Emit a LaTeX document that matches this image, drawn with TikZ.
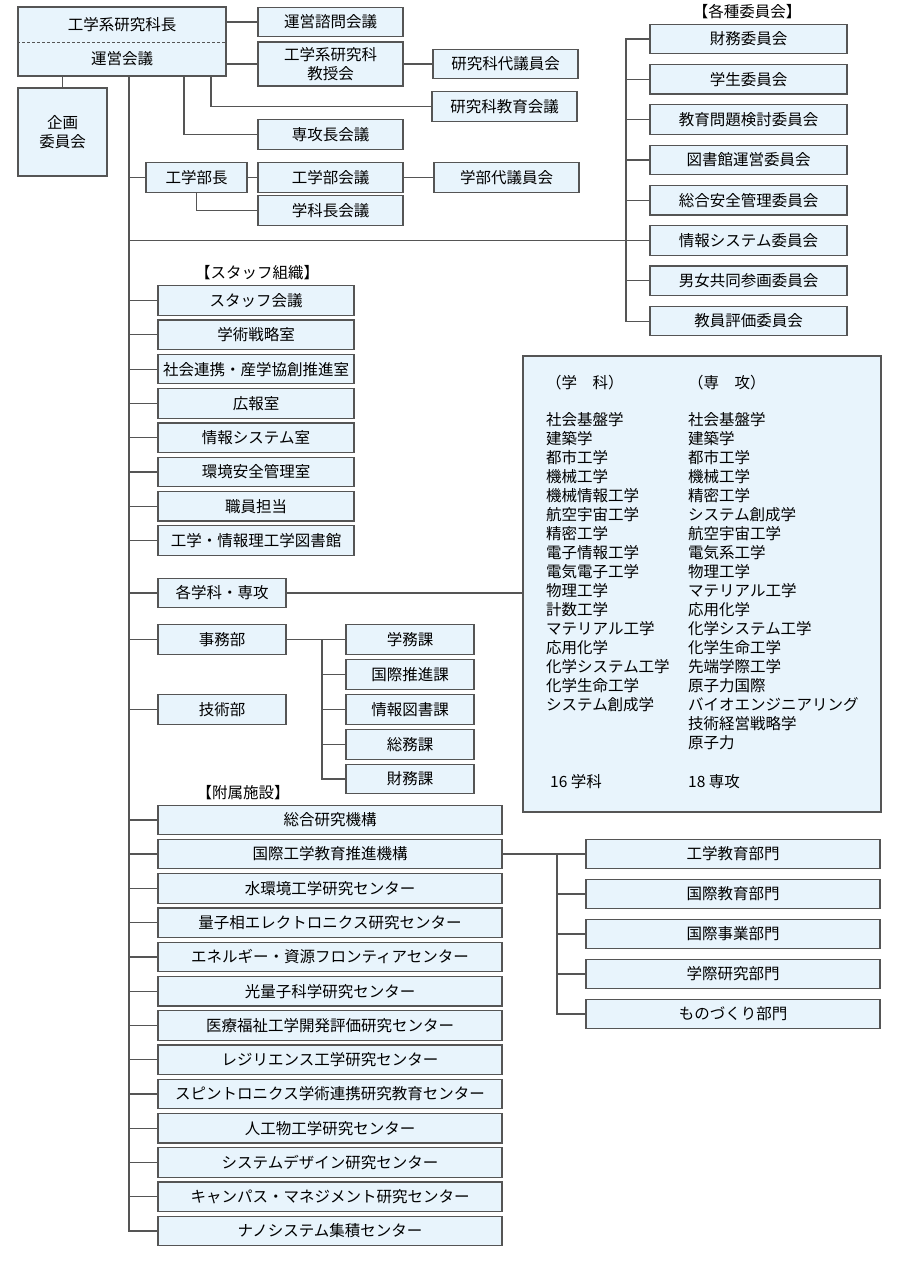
\documentclass[tikz,border=0pt]{standalone}
\usepackage{fontspec}
\setmainfont{Noto Sans CJK JP}
\definecolor{linegray}{RGB}{85,85,85}
\definecolor{boxfill}{RGB}{232,244,252}
\tikzset{
  orgbox/.style={draw=linegray, fill=boxfill, line width=1.2pt, minimum height=29.5pt, inner sep=0pt, font=\fontsize{15.5pt}{18.5pt}\selectfont},
  topbox/.style={orgbox, minimum width=145pt},
  iinbox/.style={orgbox, minimum width=197pt},
  staffbox/.style={orgbox, minimum width=196pt},
  smallbox/.style={orgbox, minimum width=128pt},
  facbox/.style={orgbox, minimum width=344pt},
  bumonbox/.style={orgbox, minimum width=294pt},
  grouptitle/.style={inner sep=0pt, font=\fontsize{15.5pt}{18.5pt}\selectfont},
  listtext/.style={inner sep=0pt, font=\fontsize{15.5pt}{19pt}\selectfont},
  link/.style={draw=linegray, line width=1.2pt}
}
\begin{document}
\begin{tikzpicture}[x=1pt, y=-1pt]
    \fill[white] (0,0) rectangle (900,1266);
    \useasboundingbox (0,0) rectangle (900,1266);

    \node[orgbox, minimum width=208pt, minimum height=69pt] (kenkyukacho) at (122,41.5) {};
    \node[grouptitle] (kenkyukachoText) at (122,25) {工学系研究科長};
    \node[grouptitle] (uneikaigiText) at (122,59) {運営会議};
    \draw[linegray, line width=1pt, dash pattern=on 3pt off 2pt] (kenkyukacho.west |- 0,42) -- (kenkyukacho.east |- 0,42);
    \node[orgbox, minimum width=89pt, minimum height=88pt, align=center] (kikaku) at (62.5,132) {企画\\委員会};

    \node[topbox] (uneishimon) at (330.5,22) {運営諮問会議};
    \node[topbox, minimum height=44pt, align=center] (kyojukai) at (330.5,64) {工学系研究科\\教授会};
    \node[topbox] (kdaigiin) at (505.5,64) {研究科代議員会};
    \node[topbox] (kyoikukaigi) at (504.5,106.5) {研究科教育会議};
    \node[topbox] (senkocho) at (330.5,134.5) {専攻長会議};
    \node[orgbox, minimum width=101pt] (kogakubucho) at (196.5,177.5) {工学部長};
    \node[topbox] (kogakubukaigi) at (330.5,177.5) {工学部会議};
    \node[topbox] (gdaigiin) at (506.5,177.5) {学部代議員会};
    \node[topbox] (gakkacho) at (330.5,210.5) {学科長会議};

    \coordinate (trunkTop) at (129,76);
    \coordinate (senkoBr) at (184,76);
    \coordinate (kyoikuBr) at (211,76);
    \draw[link] (kikaku.north) -- (kikaku.north |- kenkyukacho.south);
    \draw[link] (kenkyukacho.east |- uneishimon.west) -- (uneishimon.west);
    \draw[link] (kenkyukacho.east |- kyojukai.west) -- (kyojukai.west);
    \draw[link] (kyojukai.east) -- (kdaigiin.west);
    \draw[link] (kyoikuBr) |- (kyoikukaigi.west);
    \draw[link] (senkoBr) |- (senkocho.west);
    \draw[link] (trunkTop |- kogakubucho.west) -- (kogakubucho.west);
    \draw[link] (kogakubucho.east) -- (kogakubukaigi.west);
    \draw[link] (kogakubukaigi.east) -- (gdaigiin.west);
    \draw[link] (kogakubucho.south) |- (gakkacho.west);

    \node[grouptitle] (iinTitle) at (747,12) {【各種委員会】};
    \node[iinbox] (zaimuiin) at (748.5,39) {財務委員会};
    \node[iinbox] (gakuseiiin) at (748.5,79.3) {学生委員会};
    \node[iinbox] (kyoikumondai) at (748.5,119.6) {教育問題検討委員会};
    \node[iinbox] (toshokan) at (748.5,159.9) {図書館運営委員会};
    \node[iinbox] (anzenkanri) at (748.5,200.2) {総合安全管理委員会};
    \node[iinbox] (johoiin) at (748.5,240.5) {情報システム委員会};
    \node[iinbox] (danjo) at (748.5,280.8) {男女共同参画委員会};
    \node[iinbox] (kyoinhyoka) at (748.5,321.1) {教員評価委員会};
    \coordinate (iinBus) at (626,240.5);
    \draw[link] (trunkTop |- johoiin.west) -- (johoiin.west);
    \draw[link] (zaimuiin.west) -| (iinBus |- kyoinhyoka.west) -- (kyoinhyoka.west);
    \draw[link] (gakuseiiin.west) -- (gakuseiiin.west -| iinBus);
    \draw[link] (kyoikumondai.west) -- (kyoikumondai.west -| iinBus);
    \draw[link] (toshokan.west) -- (toshokan.west -| iinBus);
    \draw[link] (anzenkanri.west) -- (anzenkanri.west -| iinBus);
    \draw[link] (danjo.west) -- (danjo.west -| iinBus);

    \node[grouptitle] (staffTitle) at (257,273) {【スタッフ組織】};
    \node[staffbox] (staffkaigi) at (256,300.5) {スタッフ会議};
    \node[staffbox] (senryaku) at (256,334.8) {学術戦略室};
    \node[staffbox] (shakairenkei) at (256,369.1) {社会連携・産学協創推進室};
    \node[staffbox] (koho) at (256,403.4) {広報室};
    \node[staffbox] (johoshitsu) at (256,437.7) {情報システム室};
    \node[staffbox] (kankyo) at (256,472) {環境安全管理室};
    \node[staffbox] (shokuin) at (256,506.3) {職員担当};
    \node[staffbox] (toshokanstaff) at (256,540.6) {工学・情報理工学図書館};
    \draw[link] (trunkTop |- staffkaigi.west) -- (staffkaigi.west);
    \draw[link] (trunkTop |- senryaku.west) -- (senryaku.west);
    \draw[link] (trunkTop |- shakairenkei.west) -- (shakairenkei.west);
    \draw[link] (trunkTop |- koho.west) -- (koho.west);
    \draw[link] (trunkTop |- johoshitsu.west) -- (johoshitsu.west);
    \draw[link] (trunkTop |- kankyo.west) -- (kankyo.west);
    \draw[link] (trunkTop |- shokuin.west) -- (shokuin.west);
    \draw[link] (trunkTop |- toshokanstaff.west) -- (toshokanstaff.west);

    \node[smallbox] (kakugakka) at (222,593) {各学科・専攻};
    \node[orgbox, minimum width=358pt, minimum height=456pt] (gakkabox) at (702,584) {};
    \draw[link] (trunkTop |- kakugakka.west) -- (kakugakka.west);
    \draw[link] (kakugakka.east) -- (kakugakka.east -| gakkabox.west);
    \node[listtext, anchor=west] (gakkahead) at (546,383) {（学　科）};
    \node[listtext, anchor=west] (senkohead) at (688,383) {（専　攻）};
    \node[listtext, anchor=north west, align=left] (gakkalist) at (546,412) {社会基盤学\\建築学\\都市工学\\機械工学\\機械情報工学\\航空宇宙工学\\精密工学\\電子情報工学\\電気電子工学\\物理工学\\計数工学\\マテリアル工学\\応用化学\\化学システム工学\\化学生命工学\\システム創成学};
    \node[listtext, anchor=north west, align=left] (senkolist) at (688,412) {社会基盤学\\建築学\\都市工学\\機械工学\\精密工学\\システム創成学\\航空宇宙工学\\電気系工学\\物理工学\\マテリアル工学\\応用化学\\化学システム工学\\化学生命工学\\先端学際工学\\原子力国際\\バイオエンジニアリング\\技術経営戦略学\\原子力};
    \node[listtext, anchor=west] (gakkacount) at (550,782) {16 学科};
    \node[listtext, anchor=west] (senkocount) at (688,782) {18 専攻};

    \node[smallbox] (jimubu) at (222,639.5) {事務部};
    \node[smallbox] (gijutsubu) at (222,709.5) {技術部};
    \node[smallbox] (gakumuka) at (410,639.5) {学務課};
    \node[smallbox] (kokusaisuishin) at (410,674.5) {国際推進課};
    \node[smallbox] (johotosho) at (410,709.5) {情報図書課};
    \node[smallbox] (somuka) at (410,744.5) {総務課};
    \node[smallbox] (zaimuka) at (410,779) {財務課};
    \coordinate (kaBus) at (322,639.5);
    \draw[link] (trunkTop |- jimubu.west) -- (jimubu.west);
    \draw[link] (trunkTop |- gijutsubu.west) -- (gijutsubu.west);
    \draw[link] (jimubu.east) -- (gakumuka.west);
    \draw[link] (kaBus) |- (zaimuka.west);
    \draw[link] (kokusaisuishin.west) -- (kokusaisuishin.west -| kaBus);
    \draw[link] (johotosho.west) -- (johotosho.west -| kaBus);
    \draw[link] (somuka.west) -- (somuka.west -| kaBus);

    \node[grouptitle] (fuzokuTitle) at (243,793) {【附属施設】};
    \node[facbox] (sogoken) at (330,820) {総合研究機構};
    \node[facbox] (kokusaikogaku) at (330,854) {国際工学教育推進機構};
    \node[facbox] (mizukankyo) at (330,888.5) {水環境工学研究センター};
    \node[facbox] (ryoshiso) at (330,922.75) {量子相エレクトロニクス研究センター};
    \node[facbox] (energy) at (330,957) {エネルギー・資源フロンティアセンター};
    \node[facbox] (koryoshi) at (330,991.25) {光量子科学研究センター};
    \node[facbox] (iryofukushi) at (330,1025.5) {医療福祉工学開発評価研究センター};
    \node[facbox] (resilience) at (330,1059.75) {レジリエンス工学研究センター};
    \node[facbox] (spintronics) at (330,1094) {スピントロニクス学術連携研究教育センター};
    \node[facbox] (jinkobutsu) at (330,1128.25) {人工物工学研究センター};
    \node[facbox] (sysdesign) at (330,1162.5) {システムデザイン研究センター};
    \node[facbox] (campus) at (330,1196.75) {キャンパス・マネジメント研究センター};
    \node[facbox] (nanosys) at (330,1231) {ナノシステム集積センター};
    \draw[link] (trunkTop) |- (nanosys.west);
    \draw[link] (trunkTop |- sogoken.west) -- (sogoken.west);
    \draw[link] (trunkTop |- kokusaikogaku.west) -- (kokusaikogaku.west);
    \draw[link] (trunkTop |- mizukankyo.west) -- (mizukankyo.west);
    \draw[link] (trunkTop |- ryoshiso.west) -- (ryoshiso.west);
    \draw[link] (trunkTop |- energy.west) -- (energy.west);
    \draw[link] (trunkTop |- koryoshi.west) -- (koryoshi.west);
    \draw[link] (trunkTop |- iryofukushi.west) -- (iryofukushi.west);
    \draw[link] (trunkTop |- resilience.west) -- (resilience.west);
    \draw[link] (trunkTop |- spintronics.west) -- (spintronics.west);
    \draw[link] (trunkTop |- jinkobutsu.west) -- (jinkobutsu.west);
    \draw[link] (trunkTop |- sysdesign.west) -- (sysdesign.west);
    \draw[link] (trunkTop |- campus.west) -- (campus.west);

    \node[bumonbox] (kogakukyoiku) at (733,854) {工学教育部門};
    \node[bumonbox] (kokusaikyoiku) at (733,894) {国際教育部門};
    \node[bumonbox] (kokusaijigyo) at (733,934) {国際事業部門};
    \node[bumonbox] (gakusaiken) at (733,974) {学際研究部門};
    \node[bumonbox] (monozukuri) at (733,1014) {ものづくり部門};
    \coordinate (bumonBus) at (557,854);
    \draw[link] (kokusaikogaku.east) -- (kogakukyoiku.west);
    \draw[link] (bumonBus) |- (monozukuri.west);
    \draw[link] (kokusaikyoiku.west) -- (kokusaikyoiku.west -| bumonBus);
    \draw[link] (kokusaijigyo.west) -- (kokusaijigyo.west -| bumonBus);
    \draw[link] (gakusaiken.west) -- (gakusaiken.west -| bumonBus);
\end{tikzpicture}
\end{document}
